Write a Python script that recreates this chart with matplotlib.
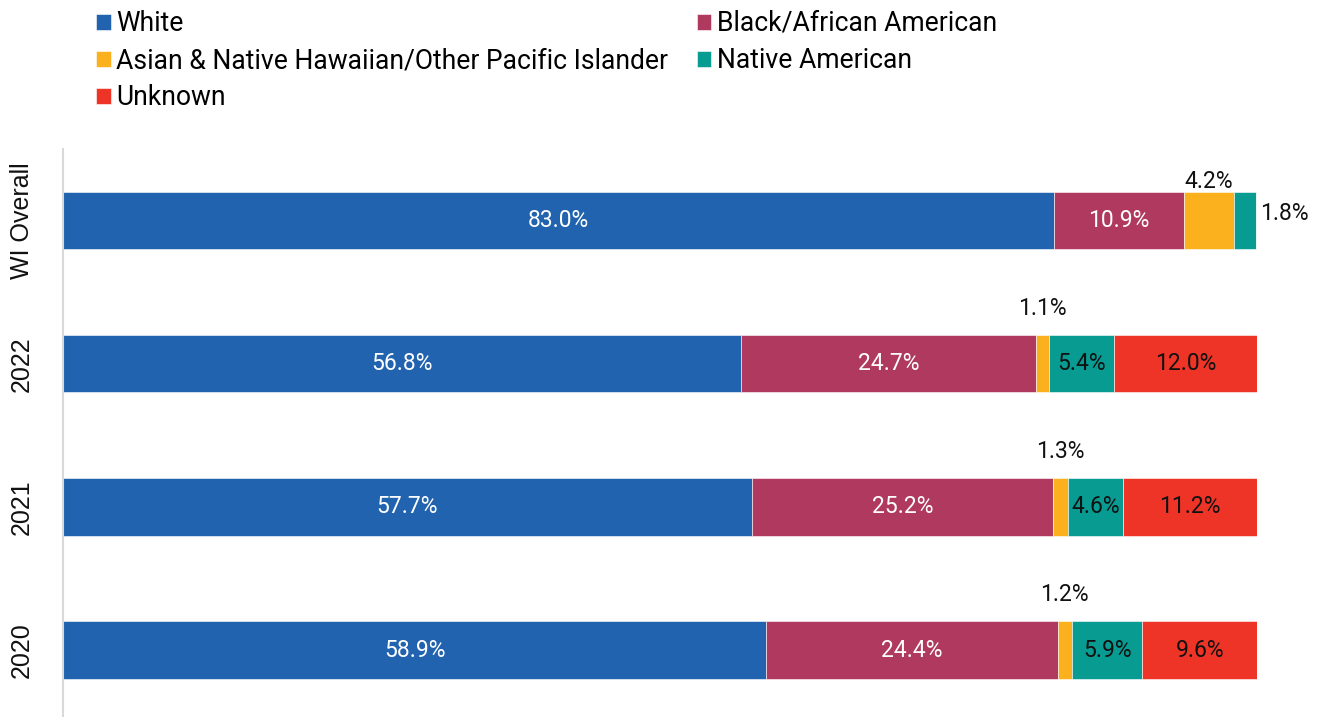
import matplotlib
matplotlib.use("Agg")
import matplotlib.pyplot as plt
import numpy as np

# Share of population by race, per row (percent)
categories = ["WI Overall", "2022", "2021", "2020"]
series_names = [
    "White",
    "Black/African American",
    "Asian & Native Hawaiian/Other Pacific Islander",
    "Native American",
    "Unknown",
]
white = [83.0, 56.8, 57.7, 58.9]
black = [10.9, 24.7, 25.2, 24.4]
asian = [4.2, 1.1, 1.3, 1.2]
native = [1.8, 5.4, 4.6, 5.9]
unknown = [0.0, 12.0, 11.2, 9.6]

colors = ["#2163AE", "#B0395F", "#FBB01E", "#079B92", "#EE3427"]
label_colors = ["white", "white", "#111111", "#111111", "#111111"]

# labels that sit outside their segment: (row, series) -> (where, offset in points)
outside = {
    (0, 2): ("above", -1),
    (0, 3): ("right", 3),
    (1, 2): ("above", 11),
    (2, 2): ("above", 11),
    (3, 2): ("above", 11),
}

fig = plt.figure(figsize=(13.23, 7.17), dpi=100)
ax = fig.add_axes([63 / 1323, -0.0065, 1194 / 1323, 0.7986])

values = [white, black, asian, native, unknown]
y = np.arange(len(categories))
left = np.zeros(len(categories))
bar_h = 0.40
containers = []
for s, (vals, col) in enumerate(zip(values, colors)):
    vals = np.array(vals)
    bc = ax.barh(y, vals, left=left, height=bar_h, color=col,
                 edgecolor="white", linewidth=0.4, label=series_names[s])
    containers.append(bc)
    for i, v in enumerate(vals):
        if v <= 0:
            continue
        cx = left[i] + v / 2
        txt = f"{v:.1f}%"
        if (i, s) in outside:
            where, off = outside[(i, s)]
            if where == "above":
                ax.annotate(txt, (cx, y[i] - bar_h / 2), xytext=(0, off),
                            textcoords="offset points", ha="center", va="bottom",
                            fontsize=16.5, family="Roboto", color="#111111")
            else:
                ax.annotate(txt, (left[i] + v, y[i] - 0.05), xytext=(off, 0),
                            textcoords="offset points", ha="left", va="center",
                            fontsize=16.5, family="Roboto", color="#111111")
        else:
            ax.text(cx, y[i], txt, ha="center", va="center", fontsize=16.5,
                    family="Roboto", color=label_colors[s])
    left = left + vals

ax.set_xlim(0, 100)
ax.set_ylim(len(categories) - 0.5, -0.5)
ax.set_yticks(y)
ax.set_yticklabels(categories, rotation=90, va="center", fontsize=18,
                   family="Liberation Sans", color="#111111")
ax.tick_params(axis="y", length=0, pad=21)
ax.set_xticks([])
for side in ["top", "right", "bottom"]:
    ax.spines[side].set_visible(False)
ax.spines["left"].set_color("#D9D9D9")
ax.spines["left"].set_linewidth(1.5)

order = [0, 2, 4, 1, 3]
fig.legend([containers[k] for k in order], [series_names[k] for k in order],
           loc="upper left", bbox_to_anchor=(96 / 1323, 1 - 10 / 717),
           ncol=2, frameon=False, prop={"family": "Roboto", "size": 19.1},
           handlelength=0.55, handleheight=0.55, handletextpad=0.2,
           columnspacing=1.09, labelspacing=0.385, borderpad=0, borderaxespad=0)

fig.savefig("out.png", dpi=100)
